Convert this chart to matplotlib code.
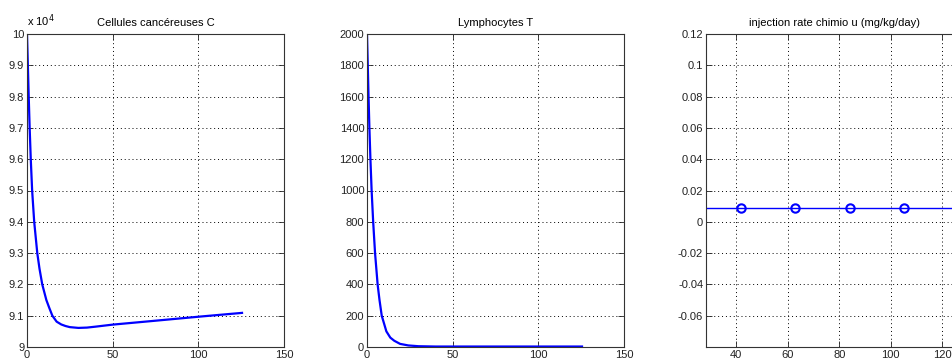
import matplotlib.pyplot as plt
from matplotlib.ticker import FuncFormatter
import numpy as np

plt.rcParams['font.family'] = ['Liberation Sans', 'DejaVu Sans']
plt.rcParams['font.size'] = 8

# cellules cancereuses C(t)
c_t = [0, 0.5, 1.0, 1.55, 2.2, 3.0, 4.2, 6.0, 7.3, 8.9, 11.3, 13.0, 14.8, 17.3,
       20, 22.5, 25, 30, 35, 40, 50, 75, 100, 125.5]
c_val = [100000, 99000, 98000, 97000, 96000, 95000, 94000, 93000, 92500, 92000,
         91500, 91250, 91000, 90810, 90720, 90670, 90635, 90610, 90620, 90650,
         90715, 90840, 90967, 91090]

# lymphocytes T(t)
t_t = [0, 0.45, 0.9, 1.4, 2.0, 2.7, 3.6, 4.7, 6.2, 7.3, 8.6, 11.3, 13.6, 15.9,
       19.3, 24.1, 30, 40, 60, 90, 125.5]
t_val = [2000, 1800, 1600, 1400, 1200, 1000, 800, 600, 400, 300, 200, 100, 60,
         40, 20, 10, 5, 3, 3, 3, 3]

# taux d'injection chimio u
u_t = [0, 126]
u_val = [0.0086, 0.0086]
inj_t = [42, 63, 84, 105]
inj_u = [0.0086, 0.0086, 0.0086, 0.0086]

W, H = 953, 361
fig = plt.figure(figsize=(W / 100, H / 100), dpi=100)


def style(ax):
    ax.grid(True, color='black', linestyle=(0, (1, 3)), linewidth=0.7)
    ax.tick_params(direction='in', top=True, right=True, length=4, width=0.6,
                   pad=2, labelsize=8, colors='#222222')
    for s in ax.spines.values():
        s.set_color('#333333')
        s.set_linewidth(0.8)


ax1 = fig.add_axes([27 / W, 14 / H, 257 / W, 313 / H])
ax1.plot(c_t, c_val, color='#0000ff', lw=1.6)
ax1.set_xlim(0, 150)
ax1.set_ylim(90000, 100000)
ax1.set_xticks([0, 50, 100, 150])
ax1.set_yticks(np.arange(90000, 100001, 1000))
ax1.yaxis.set_major_formatter(FuncFormatter(lambda v, p: '%g' % round(v / 1e4, 2)))
ax1.set_title('Cellules cancéreuses C', fontsize=8, pad=6)
ax1.text(0.0, 1.015, 'x 10$^4$', transform=ax1.transAxes, fontsize=8,
         ha='left', va='bottom')
style(ax1)

ax2 = fig.add_axes([367 / W, 14 / H, 257 / W, 313 / H])
ax2.plot(t_t, t_val, color='#0000ff', lw=1.6)
ax2.set_xlim(0, 150)
ax2.set_ylim(0, 2000)
ax2.set_xticks([0, 50, 100, 150])
ax2.set_yticks(np.arange(0, 2001, 200))
ax2.set_title('Lymphocytes T', fontsize=8, pad=6)
style(ax2)

ax3 = fig.add_axes([706 / W, 14 / H, 257 / W, 313 / H])
ax3.plot(u_t, u_val, color='#0000ff', lw=1.0)
ax3.plot(inj_t, inj_u, 'o', color='#0000ff', mfc='none', ms=6, mew=1.5)
ax3.set_xlim(28.3, 128)
ax3.set_ylim(-0.08, 0.12)
ax3.set_xticks([40, 60, 80, 100, 120])
ax3.set_yticks(np.arange(-0.06, 0.1201, 0.02))
ax3.yaxis.set_major_formatter(FuncFormatter(lambda v, p: '%g' % round(v, 2)))
ax3.set_title('injection rate chimio u (mg/kg/day)', fontsize=8, pad=6)
style(ax3)

fig.savefig('out.png', dpi=100)
